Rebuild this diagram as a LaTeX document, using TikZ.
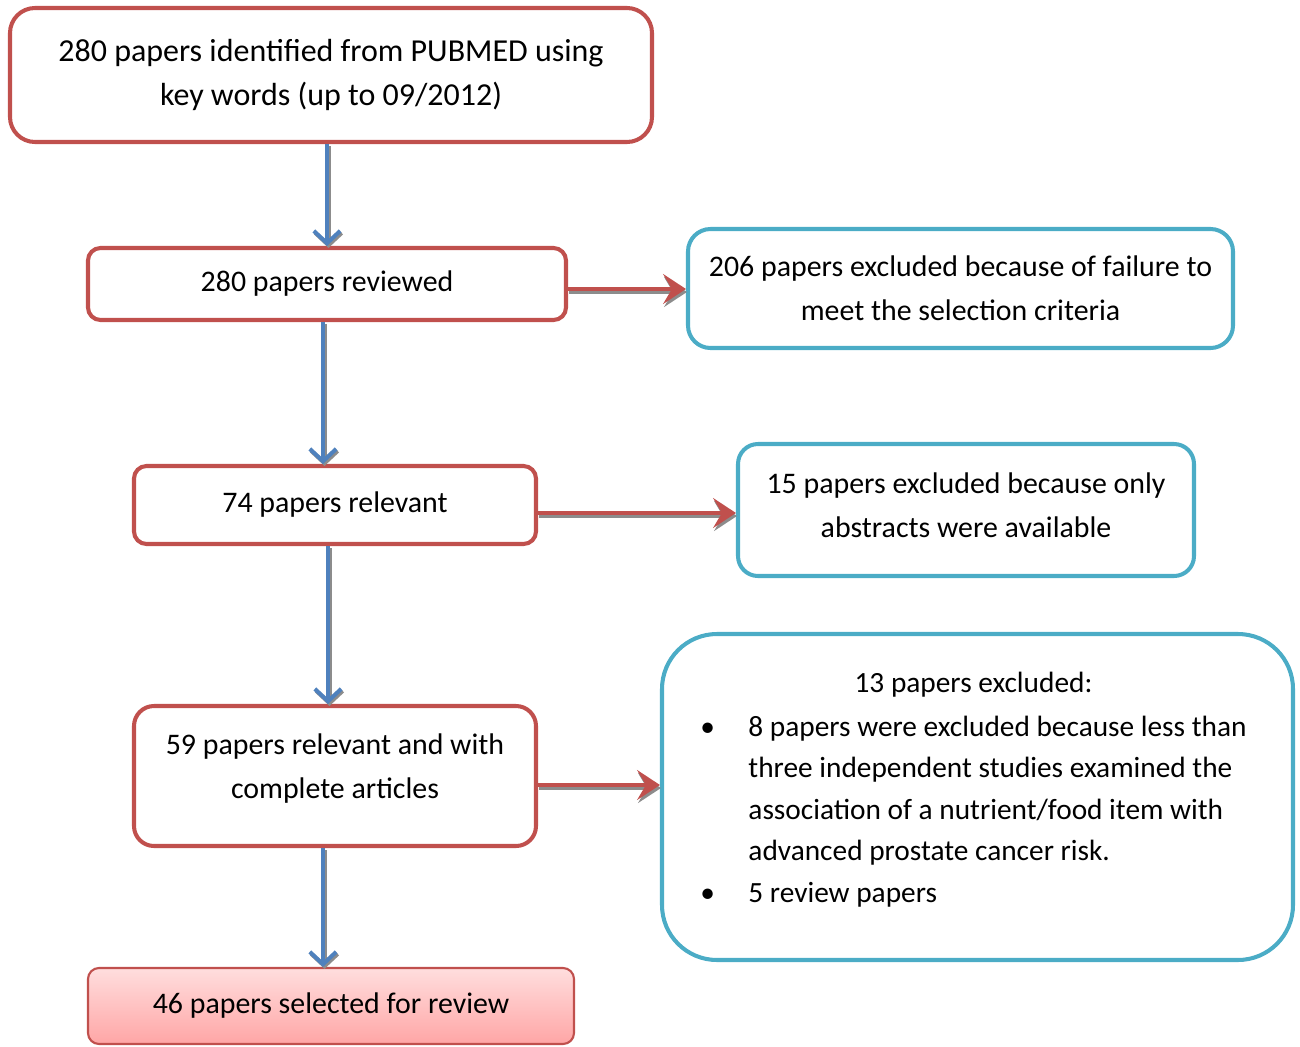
\documentclass[tikz,border=0pt]{standalone}
\usepackage{fontspec}
\setmainfont{Carlito}
\usepackage{xcolor}
\usetikzlibrary{arrows.meta}
\definecolor{boxred}{HTML}{C0504D}
\definecolor{boxaqua}{HTML}{4BACC6}
\definecolor{arrowblue}{HTML}{4F81BD}
\definecolor{shadowgray}{HTML}{8C8C8C}

\begin{document}
\begin{tikzpicture}[
	every node/.style={font=\fontsize{17}{25}\selectfont, align=center, inner sep=0pt},
	redbox/.style={draw=boxred, line width=2.3pt, rounded corners=#1},
	aquabox/.style={draw=boxaqua, line width=2.3pt, rounded corners=#1},
	down/.style={draw=arrowblue, line width=2.3pt, -{Straight Barb[length=7pt,width=15pt]},
		preaction={draw=shadowgray, line width=2.3pt, transform canvas={shift={(0.03,-0.04)}}}},
	side/.style={draw=boxred, line width=2.2pt, -{Stealth[length=13pt,width=17pt,inset=5pt]},
		preaction={draw=shadowgray, line width=2.2pt, transform canvas={shift={(0.02,-0.06)}}}}
	]
	\useasboundingbox (0,0) rectangle (26,-20.92);
	% left column
	\node[redbox=0.5cm, minimum width=12.84cm, minimum height=2.68cm,
		font=\fontsize{18.2}{25}\selectfont] (ident) at (6.62,-1.5)
		{280 papers identified from PUBMED using\\key words (up to 09/2012)};
	\node[redbox=0.25cm, minimum width=9.56cm, minimum height=1.44cm] (reviewed) at (6.54,-5.68)
		{280 papers reviewed};
	\node[redbox=0.25cm, minimum width=8.04cm, minimum height=1.56cm] (relevant) at (6.70,-10.1)
		{74 papers relevant};
	\node[redbox=0.4cm, minimum width=8.04cm, minimum height=2.8cm] (complete) at (6.70,-15.52)
		{\raisebox{0.16cm}[\height][\depth]{\begin{tabular}{@{}c@{}}59 papers relevant and with\\complete articles\end{tabular}}};
	\node[draw=boxred, line width=1.2pt, rounded corners=0.22cm, top color=red!13, bottom color=red!35,
		minimum width=9.72cm, minimum height=1.52cm] (selected) at (6.62,-20.12)
		{46 papers selected for review};
	% right column
	\node[aquabox=0.45cm, minimum width=10.9cm, minimum height=2.38cm] (failcrit) at (19.21,-5.77)
		{206 papers excluded because of failure to\\meet the selection criteria};
	\node[aquabox=0.4cm, minimum width=9.12cm, minimum height=2.64cm] (abstracts) at (19.32,-10.2)
		{\raisebox{0.07cm}[\height][\depth]{\begin{tabular}{@{}c@{}}15 papers excluded because only\\abstracts were available\end{tabular}}};
	\node[aquabox=1.1cm, minimum width=12.62cm, minimum height=6.52cm,
		font=\fontsize{16.7}{23.6}\selectfont] (thirteen) at (19.55,-15.94)
		{\raisebox{0.16cm}[\height][\depth]{\begin{tabular}{@{}p{0.96cm}@{}l@{}}
			\multicolumn{2}{c}{13 papers excluded:}\\[1.5pt]
			\textbullet & 8 papers were excluded because less than\\
			& three independent studies examined the\\
			& association of a nutrient/food item with\\
			& advanced prostate cancer risk.\\
			\textbullet & 5 review papers
		\end{tabular}}\hspace*{0.16cm}};
	% arrows
	\draw[down] ([xshift=-0.08cm]ident.south) -- (reviewed.north);
	\draw[down] ([xshift=-0.08cm]reviewed.south) -- ([xshift=-0.08cm]reviewed.south |- relevant.north);
	\draw[down] ([xshift=-0.14cm]relevant.south) -- ([xshift=-0.14cm]relevant.south |- complete.north);
	\draw[down] ([xshift=-0.24cm]complete.south) -- ([xshift=-0.16cm]selected.north);
	\draw[side] ([yshift=-0.1cm]reviewed.east) -- ([yshift=-0.1cm]reviewed.east -| failcrit.west);
	\draw[side] ([yshift=-0.16cm]relevant.east) -- ([yshift=-0.16cm]relevant.east -| abstracts.west);
	\draw[side] ([yshift=-0.18cm]complete.east) -- ([yshift=-0.18cm]complete.east -| thirteen.west);
\end{tikzpicture}
\end{document}
